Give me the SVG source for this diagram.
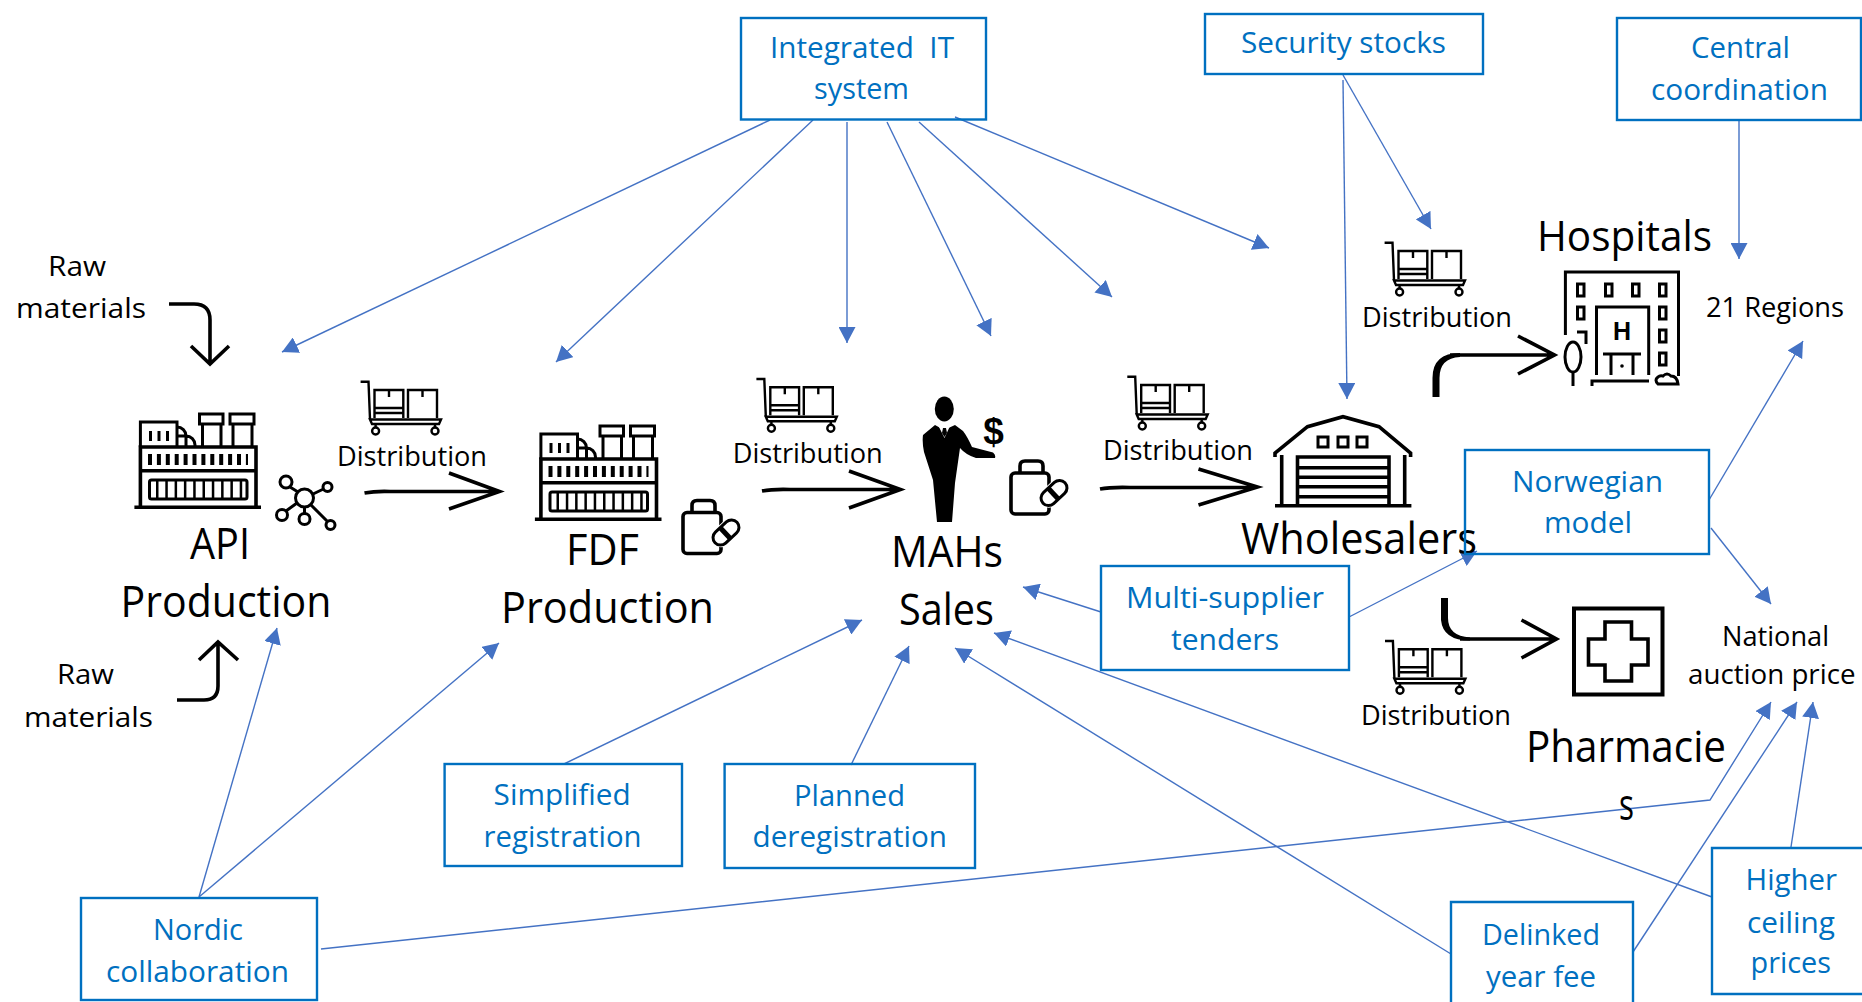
<svg xmlns="http://www.w3.org/2000/svg" xmlns:xlink="http://www.w3.org/1999/xlink" width="1862" height="1002" viewBox="0 0 1862 1002">
<style>
text{font-family:"Open Sans","Noto Sans","Liberation Sans",sans-serif}
.bx{fill:none;stroke:#0070C0;stroke-width:2.4}
.bt{fill:#0070C0;font-size:29px}
.sm{fill:#000;font-size:28px}
.lg{fill:#000;font-size:44px}
.cn{fill:none;stroke:#4472C4;stroke-width:1.4}
.oa{fill:none;stroke:#000;stroke-width:3.6}
.ic{fill:none;stroke:#000;stroke-width:3}
</style>
<defs>
<marker id="tri" markerUnits="userSpaceOnUse" markerWidth="17" markerHeight="17" viewBox="0 0 17 17" refX="16" refY="8.500" orient="auto"><path d="M0 0L16 8.500L0 17Z" fill="#4472C4"/></marker>
<g id="cart" class="ic" style="stroke-width:2.4">
<path d="M360.600 381.700H368.500L370 419"/>
<path d="M374.500 418V390H403.300V418M408 418V390H437V418"/>
<path d="M389 390V397M422.500 390V397M374.500 408H403M374.500 413H403"/>
<path d="M370 419.500H441L439 424H372Z"/>
<path d="M375.600 424V427M435 424V427"/>
<circle cx="375.600" cy="431" r="3.500"/><circle cx="435" cy="431" r="3.500"/>
</g>
<g id="factory">
<path class="ic" style="stroke-width:3.600" d="M134.400 507.300H261M140.400 507V447H256V507M140.400 470.700H256"/>
<path d="M148 459.500H248" stroke="#000" stroke-width="11" stroke-dasharray="4 4.900" fill="none"/>
<rect class="ic" x="149.500" y="480" width="97.500" height="19" rx="2"/>
<path d="M156 489.500H243" stroke="#000" stroke-width="19" stroke-dasharray="2.500 6.800" fill="none"/>
<path class="ic" d="M140.400 447V422H177V447"/>
<path d="M149 436H170" stroke="#000" stroke-width="10" stroke-dasharray="3 5.500" fill="none"/>
<path class="ic" d="M177 427A9 9 0 0 1 186 436V447M186 436A9 9 0 0 1 195 445V447M177 436H186"/>
<path class="ic" d="M202.500 447V424M221 447V424M199.500 414H223V424H199.500ZM233 447V424M252 447V424M230 414H254V424H230Z"/>
</g>
<g id="bag">
<path class="ic" style="stroke-width:3.600" d="M1020 473V466Q1020 461 1025 461H1038Q1043 461 1043 466V473"/>
<rect class="ic" style="stroke-width:3.600" x="1011" y="473" width="38" height="41" rx="4"/>
<g transform="translate(1054 493) rotate(-43)">
<rect x="-17" y="-10" width="34" height="20" rx="10" fill="#fff"/>
<rect x="-15" y="-7.500" width="30" height="15" rx="7.500" class="ic" style="fill:#fff"/>
<path d="M-1 -7V7" stroke="#000" stroke-width="5"/>
</g>
</g>
</defs>
<rect width="1862" height="1002" fill="#fff"/>

<g id="connectors">
<g class="cn">
<path marker-end="url(#tri)" d="M770 120L282 352"/>
<path marker-end="url(#tri)" d="M813 120L556 362"/>
<path marker-end="url(#tri)" d="M847 122V343"/>
<path marker-end="url(#tri)" d="M887 122L991 336"/>
<path marker-end="url(#tri)" d="M919 122L1112 297"/>
<path marker-end="url(#tri)" d="M955 117L1269 248"/>
<path marker-end="url(#tri)" d="M1343 75L1431 229"/>
<path marker-end="url(#tri)" d="M1343 80L1347 399"/>
<path marker-end="url(#tri)" d="M1739 120V259"/>
<path marker-end="url(#tri)" d="M1709 500L1803 341"/>
<path marker-end="url(#tri)" d="M1711 528L1771 604"/>
<path marker-end="url(#tri)" d="M1349 617L1477 551"/>
<path marker-end="url(#tri)" d="M1101 612L1023 587"/>
<path marker-end="url(#tri)" d="M564 764L862 620"/>
<path marker-end="url(#tri)" d="M851 765L909 646"/>
<path marker-end="url(#tri)" d="M1451 954L955 648"/>
<path marker-end="url(#tri)" d="M1712 897L994 633"/>
<path marker-end="url(#tri)" d="M1633 952L1797 702"/>
<path marker-end="url(#tri)" d="M1791 847L1813 702"/>
<path marker-end="url(#tri)" d="M321 949L1710 800L1771 702"/>
<path marker-end="url(#tri)" d="M199 897L277 628"/>
<path marker-end="url(#tri)" d="M199 897L499 643"/>
</g>
<g class="oa">
<path d="M169 304H194Q210 304 210 320V363M191 346L210 364L229 346"/>
<path d="M177 700H204Q218 700 218 686V642M199 660L218 642L238 660"/>
<path d="M364.500 493Q375 491 390 491.500H499M449 473L499.500 491.500L449 509"/>
<path d="M762 491Q772 489 790 489.500H900M849 471L900.500 489.500L849 508"/>
<path d="M1100 489Q1110 487 1130 487.500H1257M1198.500 469L1257.500 487L1198.500 505"/>
<path d="M1450 355H1553M1518 336L1554.500 355L1518 374"/>
<path d="M1521.500 620L1556.500 639L1521.500 658M1460 639H1556"/>
</g>
<path id="arrow-hospital-stem" fill="#000" d="M1432.500 397V378Q1432.500 353 1460 353V357Q1439.500 358 1439.500 378V397Z"/>
<path id="arrow-pharmacy-stem" fill="#000" d="M1441 598V620Q1443 640.500 1470 640.500V637.500Q1448 636 1448 618V598Z"/>
</g>

<g id="raw-materials-top"><text class="sm" x="48" y="276" textLength="58" lengthAdjust="spacingAndGlyphs">Raw</text><text class="sm" x="16" y="318" textLength="130" lengthAdjust="spacingAndGlyphs">materials</text></g>
<g id="raw-materials-bottom"><text class="sm" x="57" y="684" textLength="57" lengthAdjust="spacingAndGlyphs">Raw</text><text class="sm" x="24" y="727" textLength="129" lengthAdjust="spacingAndGlyphs">materials</text></g>

<g id="api-production">
<use xlink:href="#factory" href="#factory"/>
<g class="ic">
<circle cx="304.500" cy="498" r="9"/><circle cx="286" cy="482" r="6"/><circle cx="327.500" cy="487" r="4.500"/><circle cx="282" cy="515" r="5.500"/><circle cx="304.500" cy="519" r="5.500"/><circle cx="330.500" cy="525" r="4.500"/>
<path d="M290 487L298 492M323.500 489L313 494M286 511L297 503M304.500 507V513.500M311 505L327 521"/>
</g>
<text class="lg" x="190" y="559" textLength="60" lengthAdjust="spacingAndGlyphs">API</text>
<text class="lg" x="120.500" y="617" textLength="211" lengthAdjust="spacingAndGlyphs">Production</text>
</g>

<g id="fdf-production">
<use xlink:href="#factory" href="#factory" transform="translate(400.500 12)"/>
<use xlink:href="#bag" href="#bag" transform="translate(-328 39.500)"/>
<text class="lg" x="566" y="565" textLength="73" lengthAdjust="spacingAndGlyphs">FDF</text>
<text class="lg" x="501" y="623" textLength="213" lengthAdjust="spacingAndGlyphs">Production</text>
</g>

<g id="mahs-sales">
<ellipse cx="944.300" cy="409" rx="9.500" ry="12.500" fill="#000"/>
<path fill="#000" d="M935 425L944 430L955 425L963 431Q967 436 972 447L993 452.500Q996 455 995 458L976 458Q966 455 960 448L955 483L952 522H937L933 480L924 452Q922 442 923 435Z"/>
<path fill="#fff" d="M938.500 426L944.300 429L950 426L944.500 438Z"/>
<path fill="#000" d="M943 428H946L947 433L944.500 437L942 433Z"/>
<text x="993.500" y="444" text-anchor="middle" style="font-family:'Liberation Sans',sans-serif;font-weight:bold;font-size:37px" fill="#000">$</text>
<use xlink:href="#bag" href="#bag"/>
<text class="lg" x="891" y="567" textLength="112" lengthAdjust="spacingAndGlyphs">MAHs</text>
<text class="lg" x="899" y="625" textLength="95" lengthAdjust="spacingAndGlyphs">Sales</text>
</g>

<g id="wholesalers">
<path class="ic" style="stroke-width:3.600" d="M1275 457V453L1307.500 426.700L1343 416.700L1379 426.700L1410.600 453V457M1281.700 455V505.700M1404.700 455V505.700M1275 505.700H1411.400M1297.500 505V457H1389V505"/>
<path class="ic" style="stroke-width:3.600" d="M1297.500 467.700H1389M1297.500 477.300H1389M1297.500 486.700H1389M1297.500 496.700H1389"/>
<path class="ic" d="M1318 437H1328V447H1318ZM1338 437H1348V447H1338ZM1357 437H1367V447H1357Z"/>
<text class="lg" x="1241" y="554" textLength="236" lengthAdjust="spacingAndGlyphs">Wholesalers</text>
</g>

<g id="hospitals">
<text class="lg" style="font-size:42px" x="1537" y="251" textLength="175" lengthAdjust="spacingAndGlyphs">Hospitals</text>
<path class="ic" d="M1565.400 335V272H1678.500V376"/>
<path class="ic" d="M1577.500 284H1584V296H1577.500ZM1605.500 284H1612V296H1605.500ZM1632.500 284H1639V296H1632.500ZM1659.500 284H1666V296H1659.500ZM1577.500 307H1584V319H1577.500ZM1659.500 307H1666V319H1659.500ZM1659.500 330H1666V342H1659.500ZM1659.500 353H1666V365H1659.500ZM1577 332H1586V344"/>
<path class="ic" d="M1596.500 375V307H1648.700V375M1603 354H1641M1611 354V375M1633 354V375M1592 386V381H1649"/>
<circle cx="1622" cy="366" r="1.800" fill="#000"/>
<text x="1622" y="340" text-anchor="middle" style="font-family:'Liberation Sans',sans-serif;font-weight:bold;font-size:25px" fill="#000">H</text>
<ellipse class="ic" cx="1573" cy="357" rx="8" ry="15"/><path class="ic" d="M1573 372V386"/>
<path class="ic" d="M1658 384Q1654 380 1658 377Q1660 375 1663 376Q1667 372 1671 376Q1677 376 1678 384Z"/>
</g>

<g id="pharmacies">
<rect class="ic" style="stroke-width:4" x="1574" y="608.500" width="88.500" height="86"/>
<path class="ic" style="stroke-width:3.600" d="M1605 622H1631.500V639H1648V665H1631.500V681H1605V665H1588.500V639H1605Z"/>
<text class="lg" x="1526" y="762" textLength="200" lengthAdjust="spacingAndGlyphs">Pharmacie</text>
<text class="lg" x="1619" y="820" textLength="15" lengthAdjust="spacingAndGlyphs">s</text>
</g>

<g id="distribution-1"><use xlink:href="#cart" href="#cart"/><text class="sm" x="337" y="465.700" textLength="150" lengthAdjust="spacingAndGlyphs">Distribution</text></g>
<g id="distribution-2"><use xlink:href="#cart" href="#cart" transform="translate(395.800 -2.700)"/><text class="sm" x="732.700" y="463" textLength="150" lengthAdjust="spacingAndGlyphs">Distribution</text></g>
<g id="distribution-3"><use xlink:href="#cart" href="#cart" transform="translate(766.700 -5)"/><text class="sm" x="1103" y="460" textLength="150" lengthAdjust="spacingAndGlyphs">Distribution</text></g>
<g id="distribution-4"><use xlink:href="#cart" href="#cart" transform="translate(1024 -139)"/><text class="sm" x="1362" y="327" textLength="150" lengthAdjust="spacingAndGlyphs">Distribution</text></g>
<g id="distribution-5"><use xlink:href="#cart" href="#cart" transform="translate(1024.400 259.300)"/><text class="sm" x="1361" y="725" textLength="150" lengthAdjust="spacingAndGlyphs">Distribution</text></g>

<g id="regions"><text class="sm" x="1706" y="317" textLength="138" lengthAdjust="spacingAndGlyphs">21 Regions</text></g>
<g id="auction-price"><text class="sm" x="1722" y="646" textLength="107" lengthAdjust="spacingAndGlyphs">National</text><text class="sm" x="1688" y="684" textLength="167.500" lengthAdjust="spacingAndGlyphs">auction price</text></g>

<g id="integrated-it"><rect class="bx" x="741" y="18" width="245" height="101.500"/><text class="bt" x="770" y="58" textLength="184" lengthAdjust="spacingAndGlyphs" xml:space="preserve">Integrated  IT</text><text class="bt" x="814" y="99" textLength="95" lengthAdjust="spacingAndGlyphs">system</text></g>
<g id="security-stocks"><rect class="bx" x="1205" y="14" width="278" height="60"/><text class="bt" x="1241" y="53" textLength="205" lengthAdjust="spacingAndGlyphs">Security stocks</text></g>
<g id="central-coordination"><rect class="bx" x="1617" y="18" width="244" height="102"/><text class="bt" x="1691" y="58" textLength="99" lengthAdjust="spacingAndGlyphs">Central</text><text class="bt" x="1651" y="100" textLength="177" lengthAdjust="spacingAndGlyphs">coordination</text></g>
<g id="norwegian-model"><rect class="bx" x="1465" y="450" width="244" height="104"/><text class="bt" x="1512" y="492" textLength="151" lengthAdjust="spacingAndGlyphs">Norwegian</text><text class="bt" x="1544" y="533" textLength="88" lengthAdjust="spacingAndGlyphs">model</text></g>
<g id="multi-supplier-tenders"><rect class="bx" x="1101" y="566" width="248" height="104"/><text class="bt" x="1126" y="608" textLength="198" lengthAdjust="spacingAndGlyphs">Multi-supplier</text><text class="bt" x="1171" y="650" textLength="108" lengthAdjust="spacingAndGlyphs">tenders</text></g>
<g id="simplified-registration"><rect class="bx" x="444.600" y="764" width="237.400" height="102"/><text class="bt" x="493.600" y="805" textLength="137" lengthAdjust="spacingAndGlyphs">Simplified</text><text class="bt" x="483.600" y="847" textLength="158" lengthAdjust="spacingAndGlyphs">registration</text></g>
<g id="planned-deregistration"><rect class="bx" x="724.600" y="764" width="250.400" height="104"/><text class="bt" x="794" y="806" textLength="111" lengthAdjust="spacingAndGlyphs">Planned</text><text class="bt" x="752.500" y="847" textLength="194.500" lengthAdjust="spacingAndGlyphs">deregistration</text></g>
<g id="nordic-collaboration"><rect class="bx" x="81" y="898" width="236" height="102"/><text class="bt" x="153" y="940" textLength="90" lengthAdjust="spacingAndGlyphs">Nordic</text><text class="bt" x="106" y="982" textLength="183" lengthAdjust="spacingAndGlyphs">collaboration</text></g>
<g id="delinked-year-fee"><path class="bx" d="M1451 1003V902H1633V1003"/><text class="bt" x="1482" y="945" textLength="118" lengthAdjust="spacingAndGlyphs">Delinked</text><text class="bt" x="1486" y="987" textLength="110" lengthAdjust="spacingAndGlyphs">year fee</text></g>
<g id="higher-ceiling-prices"><path class="bx" d="M1863 848H1712V994H1863"/><text class="bt" x="1745.500" y="890" textLength="91.500" lengthAdjust="spacingAndGlyphs">Higher</text><text class="bt" x="1747" y="933" textLength="88" lengthAdjust="spacingAndGlyphs">ceiling</text><text class="bt" x="1750.500" y="973" textLength="80.500" lengthAdjust="spacingAndGlyphs">prices</text></g>
</svg>
